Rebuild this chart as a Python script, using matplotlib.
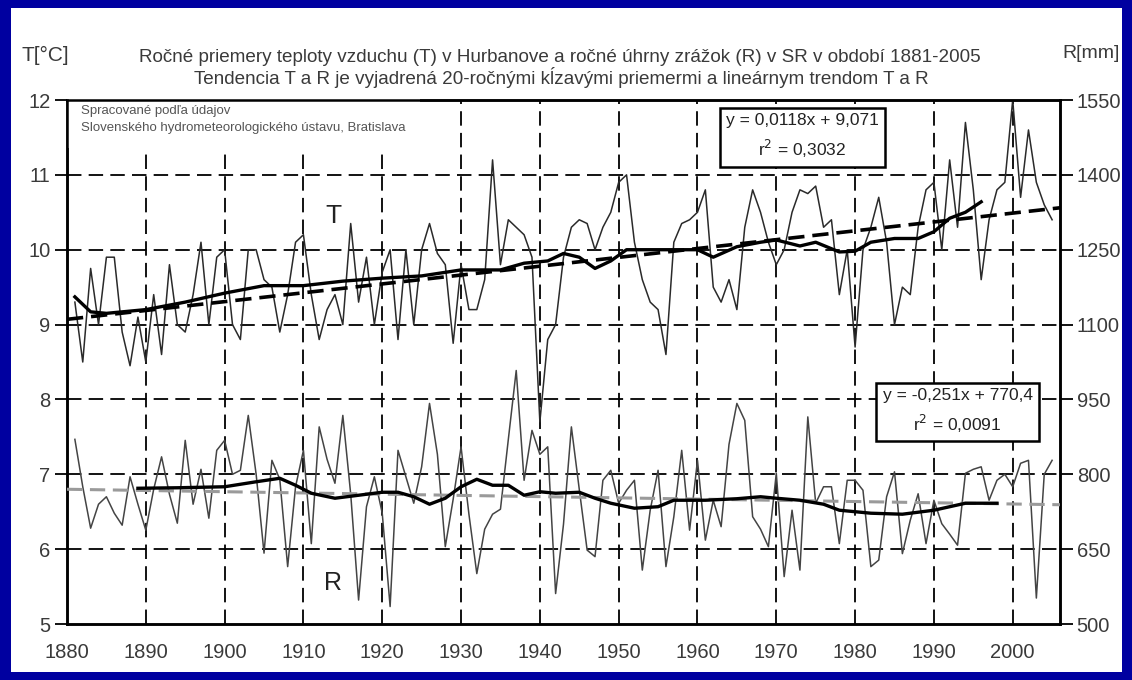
import matplotlib
matplotlib.use("Agg")
import matplotlib.pyplot as plt
from matplotlib.patches import Rectangle

plt.rcParams['font.family'] = ['Liberation Sans', 'DejaVu Sans']

# ---------------- data ----------------
years = list(range(1881, 2006))

t_annual = [
    9.3, 8.5, 9.75, 9.0, 9.9, 9.9, 8.9, 8.45, 9.1, 8.5,      # 1881-1890
    9.4, 8.6, 9.8, 9.0, 8.9, 9.4, 10.1, 9.0, 9.9, 10.0,      # 1891-1900
    9.0, 8.8, 10.0, 10.0, 9.6, 9.5, 8.9, 9.4, 10.1, 10.2,    # 1901-1910
    9.4, 8.8, 9.2, 9.4, 9.0, 10.35, 9.3, 9.9, 9.0, 9.7,      # 1911-1920
    10.0, 8.8, 10.0, 9.0, 10.0, 10.35, 9.95, 9.8, 8.75, 9.8, # 1921-1930
    9.2, 9.2, 9.6, 11.2, 9.8, 10.4, 10.3, 10.2, 9.9, 7.7,    # 1931-1940
    8.8, 9.0, 9.9, 10.3, 10.4, 10.35, 10.0, 10.3, 10.5, 10.9,# 1941-1950
    11.0, 10.1, 9.6, 9.3, 9.2, 8.6, 10.1, 10.35, 10.4, 10.5, # 1951-1960
    10.8, 9.5, 9.3, 9.6, 9.2, 10.3, 10.8, 10.5, 10.1, 9.8,   # 1961-1970
    10.0, 10.5, 10.8, 10.75, 10.85, 10.3, 10.4, 9.4, 10.0, 8.7, # 1971-1980
    10.0, 10.3, 10.7, 10.1, 9.0, 9.5, 9.4, 10.3, 10.8, 10.9, # 1981-1990
    10.0, 11.2, 10.3, 11.7, 10.8, 9.6, 10.4, 10.8, 10.9, 12.0,  # 1991-2000
    10.7, 11.6, 10.9, 10.6, 10.4,                            # 2001-2005
]

r_annual = [
    870, 775, 692, 740, 755, 722, 698, 795, 740, 688,        # 1881-1890
    770, 835, 760, 702, 868, 740, 810, 712, 848, 868,        # 1891-1900
    800, 808, 918, 800, 642, 828, 790, 615, 775, 848,        # 1901-1910
    661, 895, 830, 782, 918, 760, 548, 735, 795, 722,        # 1911-1920
    535, 848, 795, 742, 815, 942, 840, 655, 750, 855,        # 1921-1930
    720, 601, 690, 720, 730, 870, 1008, 788, 888, 840,       # 1931-1940
    855, 561, 700, 895, 770, 648, 635, 788, 808, 742,        # 1941-1950
    768, 788, 608, 728, 808, 615, 715, 848, 688, 828,        # 1951-1960
    668, 748, 695, 860, 942, 908, 715, 690, 655, 802,        # 1961-1970
    595, 728, 608, 915, 742, 775, 775, 661, 788, 788,        # 1971-1980
    768, 615, 628, 755, 805, 641, 708, 761, 661, 748,        # 1981-1990
    701, 680, 658, 802, 810, 815, 748, 788, 800, 775,        # 1991-2000
    822, 828, 552, 800, 828,                                 # 2001-2005
]

t_ma_years = [1881, 1883, 1885, 1890, 1895, 1900, 1905, 1910, 1915, 1920, 1925,
              1930, 1935, 1938, 1941, 1943, 1945, 1947, 1949, 1951, 1955, 1960,
              1962, 1965, 1968, 1970, 1973, 1975, 1978, 1980, 1982, 1985, 1988,
              1990, 1992, 1994, 1996]
t_ma_vals = [9.37, 9.17, 9.15, 9.2, 9.3, 9.42, 9.52, 9.52, 9.58, 9.62, 9.65,
             9.73, 9.73, 9.82, 9.85, 9.95, 9.9, 9.75, 9.85, 10.0, 10.0, 10.0,
             9.9, 10.04, 10.1, 10.13, 10.05, 10.1, 9.97, 9.98, 10.1, 10.15, 10.15,
             10.24, 10.42, 10.5, 10.64]

r_ma_years = [1889, 1894, 1900, 1904, 1907, 1909, 1911, 1914, 1918, 1920, 1922,
              1924, 1926, 1928, 1930, 1932, 1934, 1936, 1938, 1940, 1942, 1945,
              1947, 1949, 1952, 1955, 1957, 1961, 1965, 1968, 1970, 1973, 1976,
              1978, 1982, 1986, 1990, 1992, 1994, 1998]
r_ma_vals = [772, 773, 775, 785, 792, 778, 762, 752, 760, 764, 764,
             755, 740, 752, 775, 790, 778, 778, 758, 765, 762, 764,
             752, 742, 732, 735, 748, 748, 751, 755, 752, 748, 740,
             728, 722, 720, 728, 735, 742, 742]

t_trend_years = [1880, 2006]
t_trend_vals = [9.07, 10.56]
r_trend_years = [1880, 2006]
r_trend_vals = [770, 739]

x_ticks = list(range(1880, 2001, 10))
t_ticks = [5, 6, 7, 8, 9, 10, 11, 12]
r_ticks = [500, 650, 800, 950, 1100, 1250, 1400, 1550]

title_l1 = "Ročné priemery teploty vzduchu (T) v Hurbanove a ročné úhrny zrážok (R) v SR v období 1881-2005"
title_l2 = "Tendencia T a R je vyjadrená 20-ročnými kĺzavými priemermi a lineárnym trendom T a R"
note_l1 = "Spracované podľa údajov"
note_l2 = "Slovenského hydrometeorologického ústavu, Bratislava"
eq_t = "y = 0,0118x + 9,071\nr$^2$ = 0,3032"
eq_r = "y = -0,251x + 770,4\nr$^2$ = 0,0091"

# ---------------- figure ----------------
W, H = 1132, 680
fig = plt.figure(figsize=(W / 100, H / 100), dpi=100)
fig.patch.set_facecolor('#0000a0')
fig.patches.append(Rectangle((11 / W, 8 / H), (W - 21) / W, (H - 16) / H,
                             transform=fig.transFigure, facecolor='white',
                             edgecolor='none', zorder=-5))

ax = fig.add_axes([67 / W, 1 - 624 / H, (1060 - 67) / W, (624 - 100) / H])
ax.set_xlim(1880, 2006)
ax.set_ylim(5, 12)
ax.patch.set_visible(False)
ax2 = ax.twinx()
ax2.set_ylim(500, 1550)

txt_col = '#3a3a3a'
grid_kw = dict(color='black', lw=1.3, linestyle=(0, (8, 4)), zorder=1)
for xv in x_ticks[1:]:
    ax.axvline(xv, **grid_kw)
for yv in t_ticks[1:-1]:
    ax.axhline(yv, **grid_kw)

ax.set_xticks(x_ticks)
ax.set_yticks(t_ticks)
ax2.set_yticks(r_ticks)
ax.tick_params(axis='x', length=0, pad=14, labelsize=14.5, labelcolor=txt_col)
ax.tick_params(axis='y', length=9, width=1.3, pad=3, labelsize=14.5, labelcolor=txt_col)
ax2.tick_params(axis='y', length=9, width=1.3, pad=3, labelsize=14.5, labelcolor=txt_col)
for a in (ax, ax2):
    for s in a.spines.values():
        s.set_linewidth(1.8)

# annotation (white background) at top-left
ax.text(1881.8, 11.74, note_l1 + "\n" + note_l2, fontsize=9.5, color='#555555',
        va='center', ha='left', linespacing=1.5, zorder=5,
        bbox=dict(facecolor='white', edgecolor='none', pad=10))

# T series on left axis
ax.plot(years, t_annual, color='#2a2a2a', lw=1.1, zorder=3)
ax.plot(t_ma_years, t_ma_vals, color='black', lw=2.4, zorder=4)
ax.plot(t_trend_years, t_trend_vals, color='black', lw=2.6,
        linestyle=(0, (4.5, 2.2)), zorder=4)

# R series on right axis
ax2.patch.set_visible(False)
ax2.plot(years, r_annual, color='#444444', lw=1.1, zorder=3)
ax2.plot(r_trend_years, r_trend_vals, color='#9a9a9a', lw=2.2,
         linestyle=(0, (5, 2.5)), zorder=3)
ax2.plot(r_ma_years, r_ma_vals, color='black', lw=2.4, zorder=4)

ax2.text(1913.8, 1317, "T", fontsize=19, ha='center', va='center',
         color='#222222')
ax2.text(1913.7, 582, "R", fontsize=18, ha='center', va='center', color='#222222')

# equation boxes
box_kw = dict(facecolor='white', edgecolor='black', lw=1.8, boxstyle='square,pad=0.35')
ax2.text(1973.3, 1476, eq_t, fontsize=12.5, ha='center', va='center',
         multialignment='center', color='#222222', linespacing=1.55, zorder=6,
         bbox=box_kw)
ax2.text(1993.0, 926, eq_r, fontsize=12.5, ha='center', va='center',
         multialignment='center', color='#222222', linespacing=1.55, zorder=6,
         bbox=box_kw)

# titles and axis unit labels
fig.text(560 / W, 1 - 57 / H, title_l1, fontsize=13.6, ha='center', va='center',
         color=txt_col)
fig.text(561 / W, 1 - 77 / H, title_l2, fontsize=13.6, ha='center', va='center',
         color=txt_col)
fig.text(45 / W, 1 - 55 / H, "T[°C]", fontsize=15, ha='center', va='center',
         color=txt_col)
fig.text(1091 / W, 1 - 53 / H, "R[mm]", fontsize=14, ha='center', va='center',
         color=txt_col)

fig.savefig("out.png", dpi=100, facecolor=fig.get_facecolor())
